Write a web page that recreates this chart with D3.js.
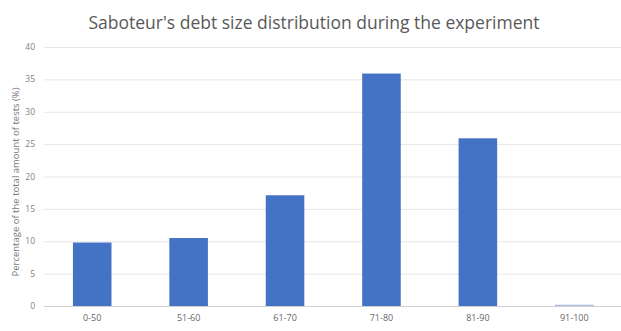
<!DOCTYPE html>
<html><head><meta charset="utf-8">
<script src="https://cdn.jsdelivr.net/npm/d3@7"></script>
<style>body{margin:0;background:#fff;} svg{display:block;font-family:"Open Sans",sans-serif;}</style>
</head><body>
<svg id="c" width="621" height="331"></svg>
<script>
const categories = ["0-50","51-60","61-70","71-80","81-90","91-100"];
const values = [9.8, 10.5, 17.1, 35.9, 25.9, 0.2];
const yTicks = [0,5,10,15,20,25,30,35,40];
const title = "Saboteur's debt size distribution during the experiment";
const yTitle = "Percentage of the total amount of tests (%)";

const svg = d3.select("#c");
const x = d3.scaleBand().domain(categories).range([44, 622.5]).paddingInner(0.6).paddingOuter(0.3);
const y = d3.scaleLinear().domain([0,40]).range([306, 47]);

svg.append("g").selectAll("line").data(yTicks).join("line")
  .attr("x1", 44).attr("x2", 621)
  .attr("y1", d=>y(d)+0.5).attr("y2", d=>y(d)+0.5)
  .attr("stroke", d=> d===0 ? "#d0d0d0" : "#e6e6e6").attr("stroke-width",1);

svg.append("g").selectAll("text").data(yTicks).join("text")
  .attr("x", 35).attr("y", d=>y(d)+3)
  .attr("text-anchor","end").attr("font-size",8.5).attr("fill","#7f7f7f")
  .text(d=>d);

svg.append("g").selectAll("rect").data(values).join("rect")
  .attr("x",(d,i)=>x(categories[i])).attr("width",x.bandwidth())
  .attr("y",d=>y(d)).attr("height",d=>Math.max(1,y(0)-y(d)))
  .attr("fill",d=> d<1 ? "#a9bde3" : "#4472c4");

svg.append("g").selectAll("text").data(categories).join("text")
  .attr("x",d=>x(d)+x.bandwidth()/2).attr("y",321)
  .attr("text-anchor","middle").attr("font-size",9).attr("fill","#666")
  .text(d=>d);

svg.append("text").attr("x",314).attr("y",28.5).attr("text-anchor","middle")
  .attr("font-size",17.5).attr("fill","#595959").text(title);

svg.append("text").attr("transform","translate(19,182) rotate(-90)")
  .attr("text-anchor","middle").attr("font-size",9.5).attr("fill","#777")
  .text(yTitle);
</script>
</body></html>
